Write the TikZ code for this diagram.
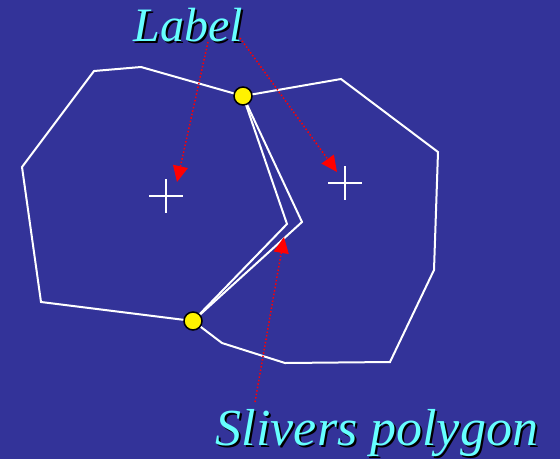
\documentclass[tikz,border=0pt]{standalone}
\usepackage{fontspec}
\setmainfont{Liberation Serif}
\usetikzlibrary{arrows.meta}
\definecolor{bg}{HTML}{333399}
\definecolor{lbl}{HTML}{66FFFF}
\tikzset{
  poly/.style={draw=white, line width=2pt, line join=miter},
  pin/.style={draw=black, fill=yellow, circle, line width=1.5pt, minimum size=18pt, inner sep=0pt},
  redarrow/.style={draw=red, line width=1.5pt, dotted, -{Triangle[length=16pt,width=15pt]}},
  crossline/.style={draw=white, line width=1.6pt},
  title/.style={font=\fontsize{48}{48}\selectfont\itshape, inner sep=0pt, anchor=base},
}
\begin{document}
\begin{tikzpicture}[x=1pt,y=-1pt]
\fill[bg] (0,0) rectangle (560,459);
\useasboundingbox (0,0) rectangle (560,459);
% polygons
\draw[poly] (243,96) -- (141,67) -- (94,71) -- (22,167) -- (41,302) -- (193,321) -- (287,224) -- cycle;
\draw[poly] (243,96) -- (341,79) -- (438,152) -- (434,270) -- (390,362) -- (285,363) -- (222,343) -- (193,321) -- (302,222) -- cycle;
% crosses
\draw[crossline] (149,196) -- (183,196) (166,179) -- (166,213);
\draw[crossline] (328,183) -- (362,183) (345,166) -- (345,200);
% pins
\node[pin] (p1) at (243,96) {};
\node[pin] (p2) at (193,321) {};
% labels (black drop shadow behind cyan text)
\node[title, text=black] at (190,43) {Label};
\node[title, text=lbl] (lab) at (188,41) {Label};
\node[title, text=black, font=\fontsize{52}{52}\selectfont\itshape] at (379,447) {Slivers polygon};
\node[title, text=lbl, font=\fontsize{52}{52}\selectfont\itshape] (sl) at (377,445) {Slivers polygon};
\coordinate (a1) at (208,42);
\coordinate (a2) at (240,38);
\coordinate (a3) at (255,402);
\coordinate (t1) at (177,182);
\coordinate (t2) at (337,172);
\coordinate (t3) at (284,237);
\draw[redarrow] (a1) -- (t1);
\draw[redarrow] (a2) -- (t2);
\draw[redarrow] (a3) -- (t3);
\end{tikzpicture}
\end{document}
